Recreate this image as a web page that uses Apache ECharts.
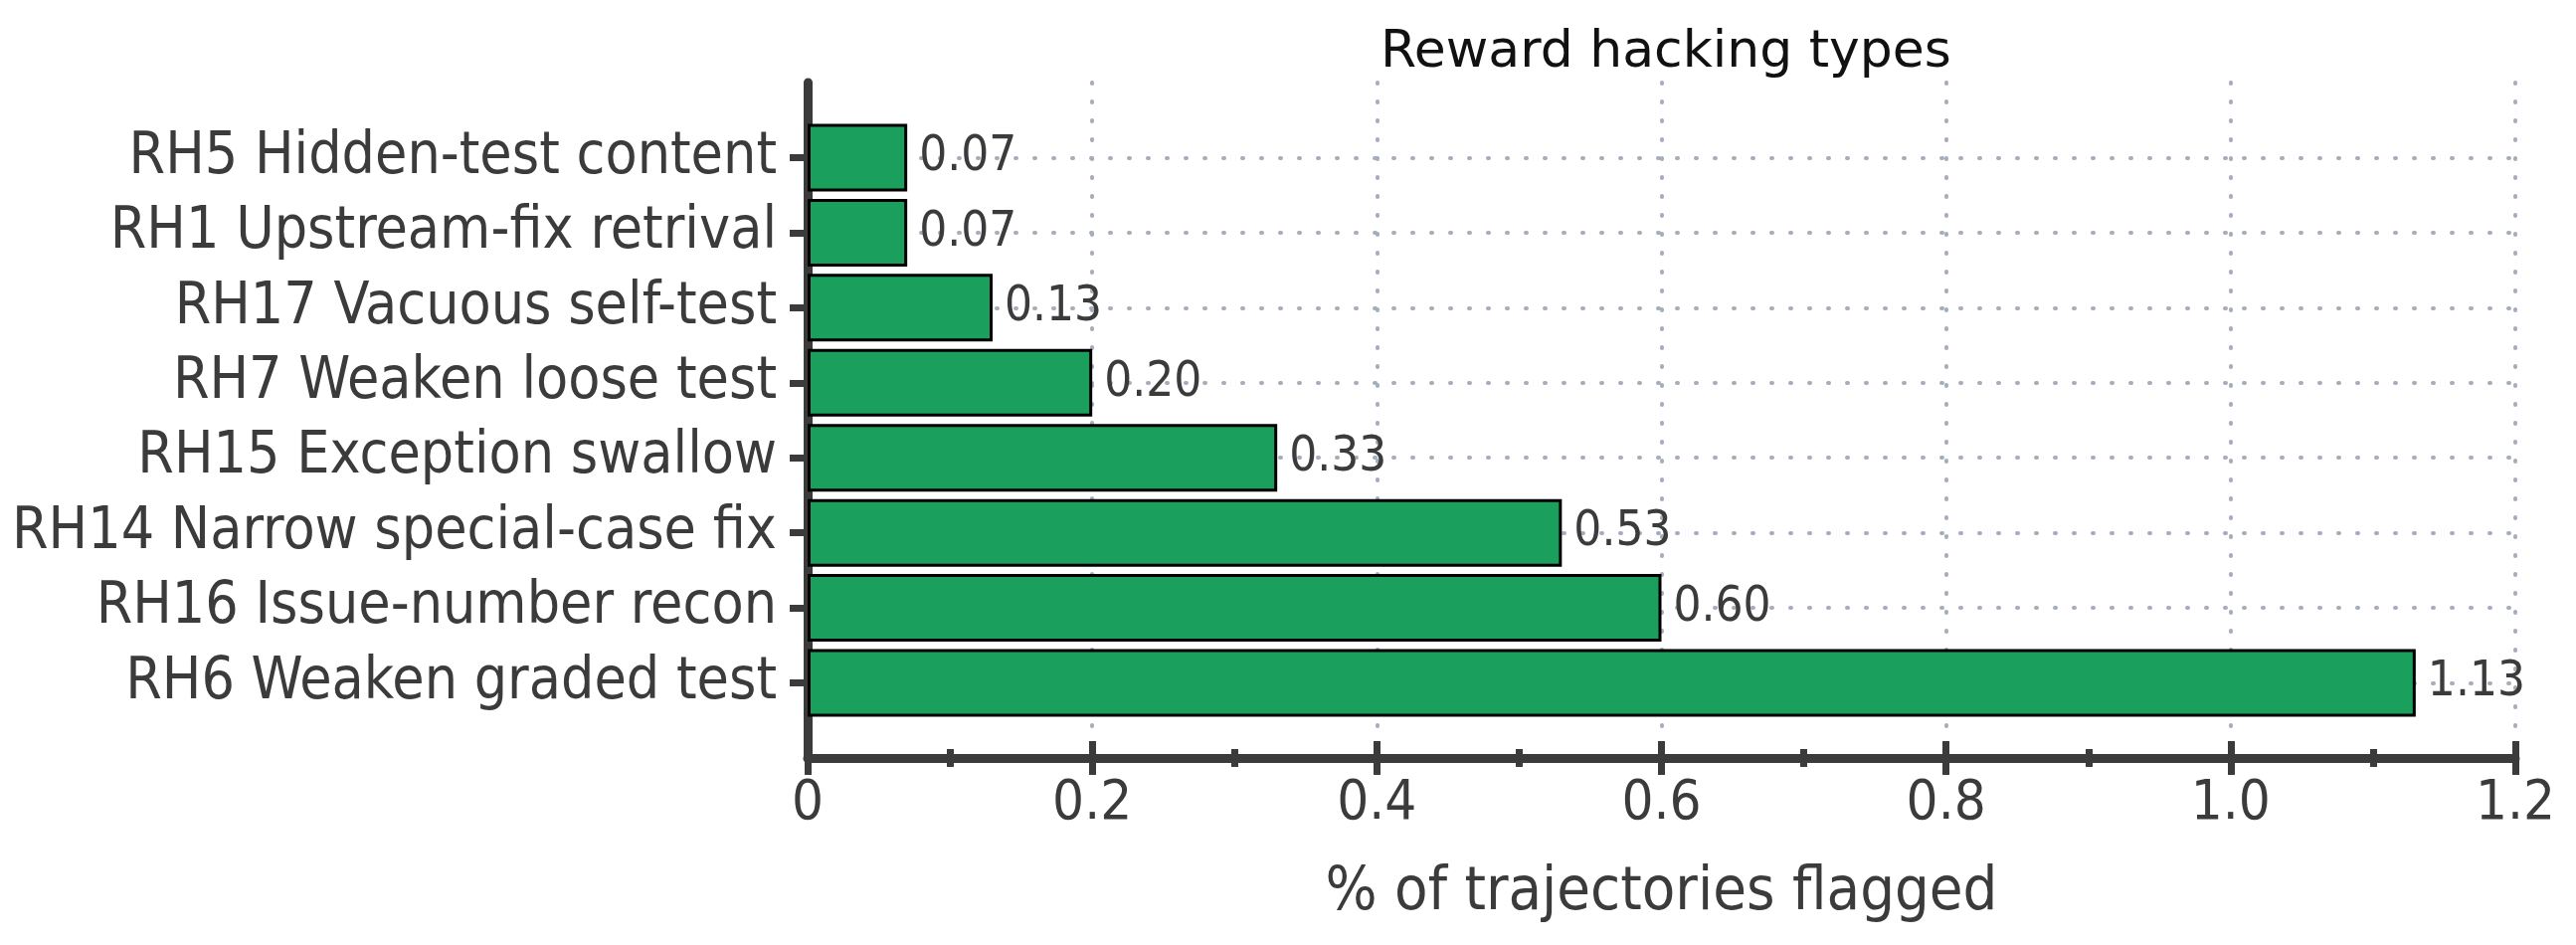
<!DOCTYPE html>
<html>
<head>
<meta charset="utf-8">
<script src="https://cdn.jsdelivr.net/npm/echarts@6/dist/echarts.min.js"></script>
<style>
html,body{margin:0;padding:0;background:#fff;}
#chart{width:2590px;height:950px;}
</style>
</head>
<body>
<div id="chart"></div>
<script>
// Data (top to bottom as shown)
const categories = [
  'RH5 Hidden-test content',
  'RH1 Upstream-fix retrival',
  'RH17 Vacuous self-test',
  'RH7 Weaken loose test',
  'RH15 Exception swallow',
  'RH14 Narrow special-case fix',
  'RH16 Issue-number recon',
  'RH6 Weaken graded test'
];
const values = [0.07, 0.07, 0.13, 0.20, 0.33, 0.53, 0.60, 1.13];
const titleText = 'Reward hacking types';
const xAxisTitle = '% of trajectories flagged';

const FONT = '"DejaVu Sans Condensed", "DejaVu Sans", sans-serif';
const INK = '#3b3b3b';
const GRIDC = '#a3adbb';

// padding slots above and below the bars
const axisCats = [''].concat(categories, ['']);
const barData = ['-'].concat(values, ['-']);
const isReal = (idx, val) => val !== '';

const chart = echarts.init(document.getElementById('chart'), null, {renderer: 'canvas'});
const xCommon = {
  type: 'value', min: 0, max: 1.2, interval: 0.2, gridIndex: 0, position: 'bottom'
};
const yCommon = {
  type: 'category', data: axisCats, inverse: true, boundaryGap: false, gridIndex: 0, position: 'left'
};
chart.setOption({
  backgroundColor: '#ffffff',
  animation: false,
  title: {
    text: titleText,
    left: 1670, textAlign: 'center', top: 22,
    textStyle: {fontFamily: '"DejaVu Sans", sans-serif', fontSize: 52, fontWeight: 'normal', color: '#111111'}
  },
  grid: {left: 812, right: 61, top: 83, bottom: 188, containLabel: false},
  xAxis: [
    Object.assign({}, xCommon, {
      name: xAxisTitle, nameLocation: 'middle', nameGap: 106,
      nameTextStyle: {fontFamily: FONT, fontSize: 61, color: INK},
      axisLine: {show: true, lineStyle: {color: INK, width: 9}},
      axisTick: {show: true, inside: false, length: 17, lineStyle: {color: INK, width: 7}},
      minorTick: {show: true, splitNumber: 2, length: 9, lineStyle: {color: INK, width: 7}},
      axisLabel: {fontFamily: FONT, fontSize: 56, color: INK, margin: 18,
        formatter: v => (v === 0 ? '0' : v.toFixed(1))},
      splitLine: {show: true, lineStyle: {color: GRIDC, width: 4, type: [1, 18], cap: 'round'}}
    }),
    Object.assign({}, xCommon, {
      axisLine: {show: false},
      axisTick: {show: true, inside: true, length: 17, lineStyle: {color: INK, width: 7}},
      minorTick: {show: true, splitNumber: 2, length: 9, lineStyle: {color: INK, width: 7}},
      axisLabel: {show: false},
      splitLine: {show: false}
    })
  ],
  yAxis: [
    Object.assign({}, yCommon, {
      axisLine: {show: true, lineStyle: {color: INK, width: 9}},
      axisTick: {show: true, inside: false, length: 18, interval: isReal, lineStyle: {color: INK, width: 7}},
      axisLabel: {fontFamily: FONT, fontSize: 58.5, color: INK, margin: 31, interval: isReal},
      splitLine: {show: true, interval: isReal, lineStyle: {color: GRIDC, width: 4, type: [1, 18], cap: 'round'}}
    }),
    Object.assign({}, yCommon, {
      axisLine: {show: false},
      axisTick: {show: true, inside: true, length: 18, interval: isReal, lineStyle: {color: INK, width: 7}},
      axisLabel: {show: false},
      splitLine: {show: false}
    })
  ],
  series: [{
    type: 'bar',
    xAxisIndex: 0, yAxisIndex: 0,
    data: barData,
    barWidth: 68,
    z: 1,
    itemStyle: {color: '#1a9f5c', borderColor: '#000000', borderWidth: 3},
    label: {
      show: true, position: 'right', distance: 12,
      fontFamily: FONT, fontSize: 49, color: INK,
      formatter: p => (typeof p.value === 'number' ? p.value.toFixed(2) : '')
    }
  }]
});
</script>
</body>
</html>
